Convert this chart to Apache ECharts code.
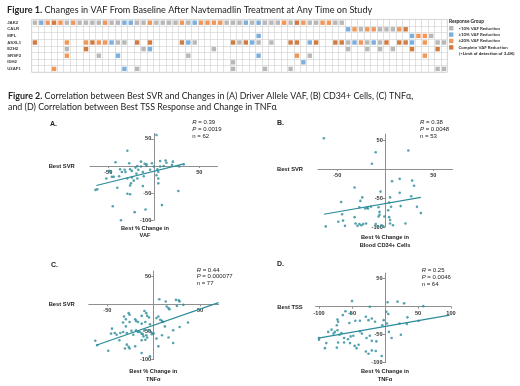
<!DOCTYPE html>
<html>
<head>
<meta charset="utf-8">
<script src="https://cdn.jsdelivr.net/npm/echarts@6/dist/echarts.min.js"></script>
<style>
  html, body { margin: 0; padding: 0; background: #fff; }
  #chart { width: 520px; height: 386px; }
</style>
</head>
<body>
<div id="chart"></div>
<script>
// ---- Figure 1 data: one character per patient column ----
// g = <10%, b = >=10%, o = >=20%, d = complete reduction, . = not mutated
const genes = ['JAK2', 'CALR', 'MPL', 'ASXL1', 'EZH2', 'SRSF2', 'IDH2', 'U2AF1']
const vafCodes = [
  'gbodogoggg' + 'goggbbggog' + 'gggogboooo' + 'gggbgbgggo' + 'gdoggoogg.' + '..........' + '.....',
  '..........' + '..........' + '..........' + '..........' + '.........b' + 'ogoogggod.' + '.....',
  '..........' + '..........' + '..........' + '.....b....' + '..........' + '.........b' + 'oog..',
  'd....o..od' + 'oobgg.d.d.' + '...dbg....' + '.dgdbg.g..' + 'dd.bd..ddg' + 'bogbgd.ddb' + '.o.gg',
  '.....g..d.' + '.......gb.' + '........g.' + '..........' + '.........g' + '..g.g.g..d' + '...d.',
  '.....o....' + 'g..b......' + '....g.....' + '.....b....' + '.o.g......' + '..........' + '.o...',
  '..........' + '..........' + '..........' + '.g........' + '..b.......' + '..........' + '.....',
  '...o......' + '....b.g...' + '..........' + '.g....g...' + 'g.........' + '..........' + '...gg'
]
const groupCodes = ['g', 'b', 'o', 'd']
const groupNames = ['<10% VAF Reduction', '\u226510% VAF Reduction', '\u226520% VAF Reduction', 'Complete VAF Reduction']

// ---- Figure 2 data: [best % change, best SVR / TSS] ----
const vafPts = [[3,57],[-29,28],[-42,7],[-27,5],[-14,8],[-10,4],[-8,3],[7,9],[13,10],[21,8],
  [14,6],[7,-1],[28,-1],[33,3],[-49,-9],[-47,-11],[-46,-20],[-44,-20],[-35,-11],[-32,-7],
  [-31,-11],[-26,-6],[-24,-9],[-20,-3],[-18,0],[-17,-7],[-14,-1],[-19,-14],[-24,-21],[-29,-23],
  [-18,-23],[-11,-19],[-4,-7],[4,-6],[5,-11],[3,-17],[5,-23],[5,-32],[-62,-43],[-64,-44],
  [-40,-40],[-26,-36],[-25,-32],[-22,-27],[-12,-37],[-29,-51],[-26,-52],[27,-46],[-45,-74],[9,-72],
  [-21,-85],[-9,-80],[-36,-100],[0,-1],[-2,5],[11,0],[20,2],[-38,-19],[-52,-23],[-37,-6],
  [-12,-11],[-8,0]]
const vafFit = [[-63, -36], [33, 4]]

const cd34Pts = [[-64,53],[-10,29],[24,32],[-14,9],[-32,-32],[7,-21],[15,-17],[28,-20],[30,-29],[-5,-39],
  [-46,-57],[-26,-55],[-24,-49],[5,-49],[15,-41],[27,-47],[-27,-66],[-21,-68],[-18,-68],[-15,-65],
  [-7,-66],[4,-58],[6,-65],[16,-64],[33,-65],[37,-76],[-45,-78],[-49,-91],[-44,-89],[-62,-99],
  [-42,-98],[-32,-83],[-31,-94],[-29,-98],[-27,-95],[-25,-97],[-23,-95],[-20,-94],[-10,-95],[-8,-99],
  [-6,-79],[-6,-74],[-7,-82],[-4,-97],[-2,-99],[4,-83],[5,-88],[5,-94],[8,-97],[21,-94],
  [-1,-82],[3,-71],[-19,-67]]
const cd34Fit = [[-64, -78], [37, -49]]

const tnfSvrPts = [[6,9],[13,5],[24,8],[27,7],[28,5],[16,-7],[14,-4],[17,-9],[32,-1],[25,-3],
  [-27,-16],[-26,-19],[-32,-22],[-30,-27],[-26,-32],[-33,-33],[-20,-27],[-13,-21],[-10,-12],[-8,-16],
  [-7,-21],[-5,-24],[-9,-32],[-17,-32],[-13,-35],[5,-22],[7,-28],[9,-30],[10,-32],[21,-47],
  [37,-33],[28,-41],[-45,-44],[-46,-53],[-42,-52],[-36,-52],[-33,-50],[-29,-52],[-24,-48],[-19,-47],
  [-17,-50],[-13,-53],[-11,-58],[-8,-56],[-2,-54],[0,-53],[3,-62],[9,-56],[16,-60],[21,-70],
  [-63,-66],[-61,-74],[-37,-65],[-29,-73],[-27,-77],[-31,-80],[-26,-80],[-20,-76],[-13,-65],[-9,-64],
  [5,-76],[-49,-84],[-13,-88],[-4,-94],[-15,-50],[-12,-54],[-10,-47],[-5,-47],[-3,-50],[-7,-60],
  [-22,-55],[-4,-36],[3,-25],[-30,-40],[-19,-30],[12,-40],[-40,-55]]
const tnfSvrFit = [[-62, -74], [70, 3]]

const tnfTssPts = [[-50,10],[-23,0],[4,8],[19,9],[29,6],[58,1],[-60,-8],[-72,-23],[-71,-27],[-73,-33],
  [-64,-15],[-52,-12],[-54,-29],[-45,-25],[-38,-25],[-29,-18],[-25,-24],[-20,-21],[-15,-27],[-2,-24],
  [2,-9],[5,-13],[-4,-33],[3,-30],[22,-30],[34,-19],[33,-31],[51,-25],[-100,-56],[-100,-59],
  [-86,-45],[-89,-65],[-91,-74],[-81,-41],[-76,-45],[-78,-48],[-72,-42],[-69,-50],[-66,-47],[-62,-56],
  [-56,-58],[-52,-53],[-48,-52],[-53,-65],[-62,-64],[-71,-64],[-73,-73],[-46,-70],[-43,-74],[-40,-68],
  [-38,-44],[-35,-48],[-28,-56],[-23,-52],[-20,-61],[-13,-62],[-29,-80],[-25,-84],[-20,-78],[-14,-79],
  [-5,-88],[6,-45],[10,-56],[24,-50]]
const tnfTssFit = [[-101, -56], [98, -15]]

const stats = [['0.39', '0.0019', '62'], ['0.38', '0.0048', '53'], ['0.44', '0.000077', '77'], ['0.25', '0.0046', '64']]
const xTicks = [-50, 50]
const xTicksWide = [-100, -50, 50, 100]
const yTicks = [50, -50, -100]
const yRange = [-100, 60]

// ---- styles / layout ----
const groupColors = ['#a6a6a6', '#5b9bd5', '#ed7d31', '#c55a11']
const teal = '#2a8c9a'
const axisGray = '#8f8f8f'
const sans = 'Liberation Sans'
const cap = 'Lato'

const chart = echarts.init(document.getElementById('chart'))

const grids = [{ left: 31.7, top: 19.4, width: 415.5, height: 52.8, show: true, borderColor: '#cfcfcf', borderWidth: 0.6 }]
const xAxes = [{
  type: 'category', gridIndex: 0, data: vafCodes[0].split('').map((_, i) => String(i + 1)),
  axisLine: { show: false }, axisTick: { show: false }, axisLabel: { show: false },
  splitLine: { show: true, interval: 0, lineStyle: { color: '#cfcfcf', width: 0.6 } }
}]
const yAxes = [{
  type: 'category', gridIndex: 0, data: genes, inverse: true,
  axisLine: { show: false }, axisTick: { show: false },
  axisLabel: { interval: 0, align: 'left', margin: 24.5, fontSize: 4.3, fontWeight: 'bold', color: '#404040', fontFamily: sans },
  splitLine: { show: true, interval: 0, lineStyle: { color: '#cfcfcf', width: 0.6 } }
}]
const series = groupCodes.map((code, k) => {
  const data = []
  vafCodes.forEach((row, r) => {
    for (let c = 0; c < row.length; c++) if (row[c] === code) data.push([c, r])
  })
  return {
    name: groupNames[k], type: 'scatter', xAxisIndex: 0, yAxisIndex: 0,
    symbol: 'rect', symbolSize: 4.4, itemStyle: { color: groupColors[k] }, data
  }
})

// scatter panels; axes are shifted onto the zero lines with offset
const panels = [
  { box: [90, 133.4, 127.5, 86.9], x: [-70, 70], xt: xTicks, pts: vafPts, fit: vafFit },
  { box: [318.1, 134.2, 134.4, 92.8], x: [-70, 70], xt: xTicks, pts: cd34Pts, fit: cd34Fit },
  { box: [88.8, 271.1, 129.8, 88.5], x: [-70, 70], xt: xTicks, pts: tnfSvrPts, fit: tnfSvrFit },
  { box: [315.7, 273.1, 135.3, 89.6], x: [-105, 100], xt: xTicksWide, pts: tnfTssPts, fit: tnfTssFit }
]
const tickFont = { fontSize: 5.6, fontWeight: 'bold', color: '#333', fontFamily: sans }
panels.forEach((p, n) => {
  const i = n + 1
  const w = p.box[2], h = p.box[3]
  grids.push({ left: p.box[0], top: p.box[1], width: w, height: h })
  xAxes.push({
    type: 'value', gridIndex: i, min: p.x[0], max: p.x[1], position: 'bottom',
    offset: -h * (0 - yRange[0]) / (yRange[1] - yRange[0]),
    axisLine: { onZero: false, lineStyle: { color: axisGray, width: 1 } },
    axisTick: { show: true, length: 2, customValues: p.xt, lineStyle: { color: axisGray } },
    axisLabel: Object.assign({ customValues: p.xt, margin: 3.5 }, tickFont),
    splitLine: { show: false }
  })
  yAxes.push({
    type: 'value', gridIndex: i, min: yRange[0], max: yRange[1], position: 'left',
    offset: -w * (0 - p.x[0]) / (p.x[1] - p.x[0]),
    axisLine: { onZero: false, lineStyle: { color: axisGray, width: 1 } },
    axisTick: { show: true, length: 2.5, customValues: yTicks, lineStyle: { color: axisGray } },
    axisLabel: Object.assign({ customValues: yTicks, margin: 2.5 }, tickFont),
    splitLine: { show: false }
  })
  series.push({
    type: 'line', xAxisIndex: i, yAxisIndex: i, data: p.fit, showSymbol: false,
    lineStyle: { color: teal, width: 1.2 }, z: 2
  })
  series.push({
    type: 'scatter', xAxisIndex: i, yAxisIndex: i, data: p.pts, symbolSize: 2.6,
    itemStyle: { color: teal }, z: 3
  })
})

function txt(x, y, text, size, opts) {
  return {
    type: 'text', x, y, silent: true,
    style: Object.assign({
      text, fontSize: size, fontFamily: sans, fontWeight: 'bold', fill: '#222',
      textAlign: 'left', align: 'left', textVerticalAlign: 'middle', verticalAlign: 'middle'
    }, opts || {})
  }
}
const mid = { textAlign: 'center', align: 'center' }
const statRich = { i: { fontStyle: 'italic', fontSize: 6, fontFamily: sans, fill: '#222' } }
function statBlock(x, y, s) {
  const o = { fontWeight: 'normal', rich: statRich }
  return [
    txt(x, y, '{i|R} = ' + s[0], 6, o),
    txt(x, y + 6.8, '{i|P} = ' + s[1], 6, o),
    txt(x, y + 13.6, 'n = ' + s[2], 6, { fontWeight: 'normal' })
  ]
}

const graphic = [
  {
    type: 'text', x: 7, y: 10, silent: true,
    style: {
      text: '{b|Figure 1.} Changes in VAF From Baseline After Navtemadlin Treatment at Any Time on Study',
      fontSize: 9.1, fontFamily: cap, fill: '#222', verticalAlign: 'middle', textVerticalAlign: 'middle',
      rich: { b: { fontWeight: 'bold', fontSize: 9.1, fontFamily: cap, fill: '#222' } }
    }
  },
  {
    type: 'text', x: 8, y: 95.7, silent: true,
    style: {
      text: '{b|Figure 2.} Correlation between Best SVR and Changes in (A) Driver Allele VAF, (B) CD34+ Cells, (C) TNF\u03b1,',
      fontSize: 8.9, fontFamily: cap, fill: '#222', verticalAlign: 'middle', textVerticalAlign: 'middle',
      rich: { b: { fontWeight: 'bold', fontSize: 8.9, fontFamily: cap, fill: '#222' } }
    }
  },
  txt(8, 106.9, 'and (D) Correlation between Best TSS Response and Change in TNF\u03b1', 8.9, { fontFamily: cap, fontWeight: 'normal' }),
  txt(449, 21, 'Response Group', 4.8, { fontFamily: cap }),
  txt(459, 53.8, '(<Limit of detection of 3.4%)', 4.4, { fontFamily: cap }),
  txt(50, 124, 'A.', 7),
  txt(277, 123, 'B.', 7),
  txt(51, 265, 'C.', 7),
  txt(277, 264, 'D.', 7),
  txt(61.7, 166.7, 'Best SVR', 5.8, mid),
  txt(290, 169, 'Best SVR', 5.8, mid),
  txt(61.7, 304.3, 'Best SVR', 5.8, mid),
  txt(290, 307.3, 'Best TSS', 5.8, mid),
  txt(145, 228.3, 'Best % Change in', 5.7, mid),
  txt(145, 235.5, 'VAF', 5.7, mid),
  txt(385, 237.7, 'Best % Change in', 5.7, mid),
  txt(385, 245, 'Blood CD34+ Cells', 5.7, mid),
  txt(153.3, 371.7, 'Best % Change in', 5.7, mid),
  txt(153.3, 379, 'TNF\u03b1', 5.7, mid),
  txt(385, 371.7, 'Best % Change in', 5.7, mid),
  txt(385, 379, 'TNF\u03b1', 5.7, mid)
].concat(
  statBlock(192.3, 122.3, stats[0]),
  statBlock(420, 122.7, stats[1]),
  statBlock(196.7, 270, stats[2]),
  statBlock(421.7, 270.7, stats[3])
)

chart.setOption({
  animation: false,
  grid: grids,
  xAxis: xAxes,
  yAxis: yAxes,
  legend: {
    data: groupNames, orient: 'vertical', left: 449, top: 25.9, padding: 0,
    itemWidth: 4.4, itemHeight: 4.4, itemGap: 1.8, selectedMode: false,
    textStyle: { fontSize: 4.4, fontWeight: 'bold', fontFamily: cap, color: '#333', lineHeight: 4.6 }
  },
  graphic,
  series
})
</script>
</body>
</html>
